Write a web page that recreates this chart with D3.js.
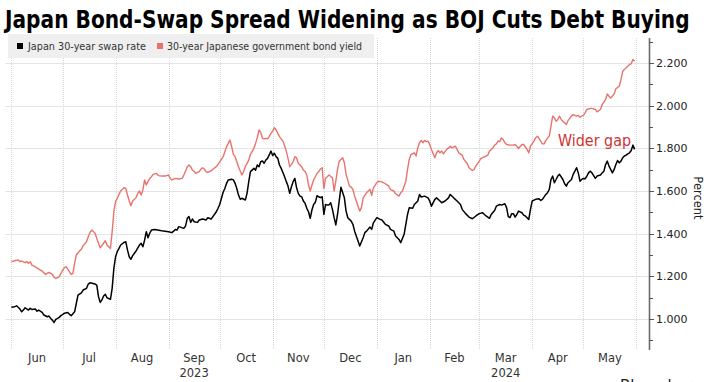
<!DOCTYPE html>
<html><head><meta charset="utf-8">
<script src="https://cdn.jsdelivr.net/npm/d3@7"></script>
<style>html,body{margin:0;padding:0;background:#fff;}svg{display:block}</style>
</head><body>
<svg id="chart" width="715" height="382"></svg>
<script>
const chartTitle = "Japan Bond-Swap Spread Widening as BOJ Cuts Debt Buying";
const seriesNames = ["Japan 30-year swap rate", "30-year Japanese government bond yield"];
const seriesColors = ["#000000", "#e8736c"];
const yAxisTitle = "Percent";
const annotationText = "Wider gap";

const yMajorTicks = [1.0, 1.2, 1.4, 1.6, 1.8, 2.0, 2.2];
const yTickLabels = ["1.000", "1.200", "1.400", "1.600", "1.800", "2.000", "2.200"];
const yMinorTicks = [0.9, 1.1, 1.3, 1.5, 1.7, 1.9, 2.1, 2.3];
const monthStarts = ["2023-06-01","2023-07-01","2023-08-01","2023-09-01","2023-10-01","2023-11-01","2023-12-01","2024-01-01","2024-02-01","2024-03-01","2024-04-01","2024-05-01","2024-06-01"];
const monthLabels = ["Jun","Jul","Aug","Sep","Oct","Nov","Dec","Jan","Feb","Mar","Apr","May"];
const yearLabelMonths = ["Sep", "Mar"];
const yearLabels = ["2023", "2024"];

const swapRate = [
["2023-06-01",1.055],["2023-06-03",1.058],["2023-06-04",1.062],["2023-06-06",1.047],["2023-06-07",1.034],["2023-06-08",1.042],["2023-06-09",1.053],["2023-06-11",1.042],["2023-06-12",1.050],["2023-06-13",1.045],["2023-06-15",1.047],["2023-06-16",1.037],["2023-06-17",1.042],["2023-06-19",1.031],["2023-06-20",1.019],["2023-06-22",1.011],["2023-06-23",1.014],["2023-06-24",1.003],["2023-06-25",0.995],["2023-06-26",0.984],["2023-06-27",0.998],["2023-06-29",1.008],["2023-06-30",1.016],
["2023-07-02",1.027],["2023-07-04",1.031],["2023-07-05",1.022],["2023-07-06",1.016],["2023-07-08",1.034],["2023-07-09",1.073],["2023-07-10",1.112],["2023-07-12",1.123],["2023-07-13",1.136],["2023-07-15",1.144],["2023-07-16",1.164],["2023-07-17",1.170],["2023-07-20",1.164],["2023-07-21",1.159],["2023-07-22",1.105],["2023-07-23",1.078],["2023-07-24",1.089],["2023-07-25",1.108],["2023-07-26",1.116],["2023-07-27",1.100],["2023-07-29",1.092],["2023-07-30",1.144],["2023-07-31",1.237],
["2023-08-01",1.292],["2023-08-02",1.316],["2023-08-03",1.331],["2023-08-04",1.347],["2023-08-06",1.359],["2023-08-07",1.362],["2023-08-08",1.323],["2023-08-09",1.292],["2023-08-10",1.280],["2023-08-11",1.297],["2023-08-13",1.319],["2023-08-15",1.347],["2023-08-16",1.355],["2023-08-17",1.339],["2023-08-18",1.370],["2023-08-19",1.409],["2023-08-20",1.381],["2023-08-21",1.402],["2023-08-22",1.417],["2023-08-24",1.420],["2023-08-28",1.414],
["2023-09-01",1.409],["2023-09-03",1.405],["2023-09-04",1.412],["2023-09-05",1.420],["2023-09-06",1.417],["2023-09-07",1.433],["2023-09-10",1.425],["2023-09-11",1.437],["2023-09-12",1.472],["2023-09-13",1.480],["2023-09-14",1.453],["2023-09-15",1.469],["2023-09-16",1.456],["2023-09-18",1.453],["2023-09-19",1.464],["2023-09-21",1.469],["2023-09-23",1.464],["2023-09-24",1.475],["2023-09-26",1.469],["2023-09-27",1.480],["2023-09-29",1.503],["2023-09-30",1.519],
["2023-10-01",1.537],["2023-10-02",1.566],["2023-10-03",1.594],["2023-10-04",1.612],["2023-10-05",1.636],["2023-10-06",1.652],["2023-10-08",1.655],["2023-10-09",1.652],["2023-10-10",1.636],["2023-10-11",1.612],["2023-10-12",1.581],["2023-10-13",1.561],["2023-10-14",1.566],["2023-10-16",1.558],["2023-10-17",1.589],["2023-10-18",1.644],["2023-10-19",1.691],["2023-10-21",1.706],["2023-10-22",1.698],["2023-10-23",1.722],["2023-10-24",1.714],["2023-10-25",1.737],["2023-10-26",1.741],["2023-10-27",1.730],["2023-10-28",1.745],["2023-10-29",1.753],["2023-10-30",1.769],["2023-10-31",1.787],
["2023-11-01",1.766],["2023-11-02",1.777],["2023-11-03",1.761],["2023-11-04",1.753],["2023-11-05",1.722],["2023-11-06",1.706],["2023-11-07",1.687],["2023-11-08",1.667],["2023-11-09",1.644],["2023-11-10",1.623],["2023-11-11",1.589],["2023-11-12",1.620],["2023-11-13",1.644],["2023-11-14",1.659],["2023-11-15",1.616],["2023-11-16",1.589],["2023-11-17",1.576],["2023-11-18",1.573],["2023-11-19",1.553],["2023-11-20",1.542],["2023-11-21",1.519],["2023-11-22",1.503],["2023-11-23",1.472],["2023-11-24",1.511],["2023-11-25",1.537],["2023-11-26",1.547],["2023-11-27",1.578],["2023-11-28",1.573],["2023-11-29",1.569],["2023-11-30",1.573],
["2023-12-01",1.490],["2023-12-02",1.537],["2023-12-03",1.534],["2023-12-04",1.535],["2023-12-05",1.545],["2023-12-06",1.514],["2023-12-07",1.475],["2023-12-08",1.441],["2023-12-09",1.490],["2023-12-11",1.618],["2023-12-13",1.568],["2023-12-14",1.506],["2023-12-15",1.475],["2023-12-17",1.459],["2023-12-18",1.444],["2023-12-19",1.412],["2023-12-21",1.366],["2023-12-22",1.342],["2023-12-24",1.381],["2023-12-25",1.405],["2023-12-26",1.412],["2023-12-28",1.431],["2023-12-29",1.420],["2023-12-30",1.451],
["2024-01-01",1.475],["2024-01-03",1.467],["2024-01-04",1.464],["2024-01-06",1.444],["2024-01-08",1.436],["2024-01-09",1.420],["2024-01-11",1.412],["2024-01-12",1.389],["2024-01-14",1.373],["2024-01-15",1.358],["2024-01-17",1.397],["2024-01-18",1.444],["2024-01-19",1.490],["2024-01-20",1.522],["2024-01-22",1.519],["2024-01-23",1.537],["2024-01-25",1.553],["2024-01-26",1.584],["2024-01-27",1.572],["2024-01-29",1.576],["2024-01-31",1.568],
["2024-02-01",1.553],["2024-02-02",1.529],["2024-02-04",1.561],["2024-02-05",1.568],["2024-02-07",1.553],["2024-02-08",1.545],["2024-02-10",1.553],["2024-02-12",1.568],["2024-02-13",1.584],["2024-02-15",1.568],["2024-02-17",1.553],["2024-02-19",1.537],["2024-02-20",1.514],["2024-02-22",1.494],["2024-02-24",1.478],["2024-02-26",1.470],["2024-02-28",1.483],
["2024-03-01",1.494],["2024-03-03",1.498],["2024-03-04",1.490],["2024-03-05",1.483],["2024-03-07",1.472],["2024-03-08",1.490],["2024-03-10",1.509],["2024-03-11",1.529],["2024-03-13",1.537],["2024-03-14",1.534],["2024-03-16",1.540],["2024-03-17",1.522],["2024-03-18",1.480],["2024-03-19",1.475],["2024-03-20",1.494],["2024-03-21",1.494],["2024-03-22",1.478],["2024-03-23",1.490],["2024-03-24",1.506],["2024-03-26",1.498],["2024-03-27",1.487],["2024-03-28",1.483],["2024-03-29",1.475],["2024-03-30",1.467],["2024-03-31",1.514],
["2024-04-01",1.553],["2024-04-03",1.561],["2024-04-05",1.564],["2024-04-06",1.556],["2024-04-07",1.561],["2024-04-09",1.584],["2024-04-10",1.592],["2024-04-11",1.607],["2024-04-12",1.654],["2024-04-13",1.670],["2024-04-14",1.639],["2024-04-15",1.654],["2024-04-16",1.670],["2024-04-17",1.678],["2024-04-19",1.654],["2024-04-20",1.634],["2024-04-21",1.623],["2024-04-22",1.639],["2024-04-24",1.654],["2024-04-25",1.678],["2024-04-26",1.693],["2024-04-27",1.709],["2024-04-28",1.685],["2024-04-29",1.646],["2024-04-30",1.654],
["2024-05-01",1.659],["2024-05-02",1.657],["2024-05-03",1.670],["2024-05-04",1.685],["2024-05-05",1.693],["2024-05-06",1.685],["2024-05-08",1.659],["2024-05-09",1.670],["2024-05-11",1.675],["2024-05-12",1.685],["2024-05-13",1.693],["2024-05-14",1.724],["2024-05-15",1.740],["2024-05-16",1.717],["2024-05-18",1.685],["2024-05-19",1.701],["2024-05-20",1.724],["2024-05-21",1.743],["2024-05-22",1.732],["2024-05-23",1.740],["2024-05-24",1.756],["2024-05-25",1.764],["2024-05-26",1.768],["2024-05-27",1.774],["2024-05-28",1.779],["2024-05-29",1.790],["2024-05-30",1.815],["2024-05-31",1.795]
];

const jgbYield = [
["2023-06-01",1.269],["2023-06-03",1.273],["2023-06-05",1.277],["2023-06-06",1.269],["2023-06-07",1.272],["2023-06-09",1.264],["2023-06-10",1.269],["2023-06-11",1.261],["2023-06-12",1.269],["2023-06-13",1.253],["2023-06-15",1.245],["2023-06-17",1.234],["2023-06-19",1.225],["2023-06-21",1.209],["2023-06-22",1.214],["2023-06-23",1.219],["2023-06-25",1.209],["2023-06-26",1.195],["2023-06-27",1.191],["2023-06-29",1.198],["2023-06-30",1.214],
["2023-07-02",1.241],["2023-07-03",1.245],["2023-07-04",1.234],["2023-07-06",1.209],["2023-07-07",1.214],["2023-07-08",1.261],["2023-07-09",1.300],["2023-07-11",1.320],["2023-07-12",1.327],["2023-07-13",1.344],["2023-07-15",1.362],["2023-07-16",1.386],["2023-07-17",1.406],["2023-07-18",1.417],["2023-07-20",1.402],["2023-07-21",1.378],["2023-07-22",1.355],["2023-07-23",1.334],["2023-07-24",1.344],["2023-07-26",1.367],["2023-07-27",1.347],["2023-07-28",1.339],["2023-07-29",1.331],["2023-07-30",1.409],["2023-07-31",1.503],
["2023-08-01",1.550],["2023-08-02",1.566],["2023-08-03",1.584],["2023-08-04",1.600],["2023-08-06",1.616],["2023-08-07",1.612],["2023-08-08",1.581],["2023-08-09",1.553],["2023-08-10",1.531],["2023-08-11",1.553],["2023-08-13",1.569],["2023-08-14",1.589],["2023-08-15",1.600],["2023-08-16",1.581],["2023-08-17",1.605],["2023-08-18",1.652],["2023-08-19",1.628],["2023-08-20",1.644],["2023-08-21",1.659],["2023-08-22",1.667],["2023-08-23",1.678],["2023-08-25",1.683],["2023-08-26",1.672],["2023-08-28",1.670],["2023-08-30",1.670],
["2023-09-01",1.675],["2023-09-02",1.659],["2023-09-03",1.652],["2023-09-04",1.656],["2023-09-05",1.659],["2023-09-07",1.656],["2023-09-09",1.659],["2023-09-10",1.675],["2023-09-11",1.694],["2023-09-12",1.714],["2023-09-13",1.722],["2023-09-14",1.714],["2023-09-15",1.698],["2023-09-16",1.691],["2023-09-17",1.683],["2023-09-18",1.687],["2023-09-19",1.691],["2023-09-20",1.703],["2023-09-21",1.709],["2023-09-22",1.703],["2023-09-23",1.691],["2023-09-24",1.687],["2023-09-26",1.694],["2023-09-27",1.702],["2023-09-29",1.714],["2023-09-30",1.725],
["2023-10-01",1.737],["2023-10-03",1.761],["2023-10-04",1.784],["2023-10-05",1.808],["2023-10-06",1.823],["2023-10-07",1.839],["2023-10-08",1.808],["2023-10-09",1.772],["2023-10-10",1.761],["2023-10-11",1.737],["2023-10-12",1.714],["2023-10-13",1.694],["2023-10-14",1.675],["2023-10-15",1.691],["2023-10-16",1.714],["2023-10-18",1.745],["2023-10-19",1.772],["2023-10-21",1.800],["2023-10-22",1.823],["2023-10-23",1.850],["2023-10-24",1.886],["2023-10-25",1.875],["2023-10-26",1.847],["2023-10-27",1.844],["2023-10-28",1.847],["2023-10-29",1.844],["2023-10-30",1.855],["2023-10-31",1.870],
["2023-11-01",1.881],["2023-11-02",1.897],["2023-11-03",1.886],["2023-11-04",1.870],["2023-11-05",1.855],["2023-11-07",1.834],["2023-11-08",1.812],["2023-11-09",1.787],["2023-11-10",1.753],["2023-11-11",1.714],["2023-11-12",1.725],["2023-11-13",1.737],["2023-11-14",1.761],["2023-11-15",1.756],["2023-11-16",1.730],["2023-11-17",1.722],["2023-11-18",1.714],["2023-11-19",1.698],["2023-11-20",1.691],["2023-11-21",1.675],["2023-11-22",1.628],["2023-11-23",1.600],["2023-11-24",1.628],["2023-11-25",1.652],["2023-11-26",1.667],["2023-11-27",1.683],["2023-11-28",1.691],["2023-11-29",1.703],["2023-11-30",1.709],
["2023-12-01",1.612],["2023-12-02",1.660],["2023-12-03",1.667],["2023-12-04",1.675],["2023-12-06",1.662],["2023-12-07",1.600],["2023-12-08",1.646],["2023-12-09",1.701],["2023-12-10",1.740],["2023-12-12",1.756],["2023-12-13",1.732],["2023-12-14",1.678],["2023-12-16",1.623],["2023-12-17",1.618],["2023-12-18",1.607],["2023-12-19",1.576],["2023-12-20",1.553],["2023-12-21",1.529],["2023-12-22",1.506],["2023-12-23",1.522],["2023-12-24",1.568],["2023-12-26",1.592],["2023-12-27",1.600],["2023-12-28",1.607],["2023-12-29",1.580],["2023-12-30",1.615],
["2024-01-01",1.639],["2024-01-02",1.646],["2024-01-04",1.643],["2024-01-06",1.634],["2024-01-08",1.623],["2024-01-09",1.607],["2024-01-11",1.600],["2024-01-12",1.587],["2024-01-14",1.576],["2024-01-15",1.592],["2024-01-16",1.600],["2024-01-18",1.646],["2024-01-19",1.701],["2024-01-20",1.748],["2024-01-21",1.771],["2024-01-23",1.779],["2024-01-24",1.764],["2024-01-25",1.802],["2024-01-26",1.826],["2024-01-27",1.837],["2024-01-28",1.826],["2024-01-29",1.837],["2024-01-30",1.831],["2024-01-31",1.834],
["2024-02-01",1.818],["2024-02-02",1.795],["2024-02-04",1.756],["2024-02-05",1.779],["2024-02-06",1.790],["2024-02-07",1.779],["2024-02-08",1.787],["2024-02-09",1.774],["2024-02-11",1.795],["2024-02-12",1.802],["2024-02-13",1.810],["2024-02-14",1.802],["2024-02-16",1.810],["2024-02-17",1.795],["2024-02-18",1.779],["2024-02-20",1.768],["2024-02-21",1.748],["2024-02-23",1.728],["2024-02-24",1.709],["2024-02-26",1.696],["2024-02-27",1.701],["2024-02-28",1.717],
["2024-03-01",1.740],["2024-03-02",1.753],["2024-03-03",1.756],["2024-03-05",1.764],["2024-03-06",1.768],["2024-03-07",1.787],["2024-03-09",1.802],["2024-03-10",1.815],["2024-03-11",1.821],["2024-03-12",1.834],["2024-03-13",1.831],["2024-03-14",1.849],["2024-03-15",1.841],["2024-03-16",1.826],["2024-03-17",1.818],["2024-03-19",1.815],["2024-03-21",1.815],["2024-03-22",1.818],["2024-03-23",1.810],["2024-03-24",1.799],["2024-03-26",1.818],["2024-03-27",1.818],["2024-03-29",1.795],["2024-03-30",1.779],["2024-03-31",1.810],
["2024-04-02",1.834],["2024-04-03",1.849],["2024-04-04",1.857],["2024-04-05",1.846],["2024-04-07",1.821],["2024-04-08",1.821],["2024-04-09",1.837],["2024-04-11",1.857],["2024-04-12",1.904],["2024-04-13",1.951],["2024-04-14",1.943],["2024-04-15",1.927],["2024-04-16",1.935],["2024-04-17",1.951],["2024-04-18",1.935],["2024-04-19",1.927],["2024-04-21",1.912],["2024-04-22",1.930],["2024-04-24",1.951],["2024-04-25",1.958],["2024-04-27",1.951],["2024-04-28",1.954],["2024-04-29",1.946],
["2024-05-01",1.955],["2024-05-02",1.966],["2024-05-03",1.982],["2024-05-05",1.987],["2024-05-06",1.987],["2024-05-08",1.982],["2024-05-09",1.971],["2024-05-11",1.982],["2024-05-12",2.005],["2024-05-14",2.029],["2024-05-15",2.055],["2024-05-16",2.044],["2024-05-17",2.036],["2024-05-19",2.055],["2024-05-20",2.079],["2024-05-22",2.091],["2024-05-23",2.122],["2024-05-24",2.161],["2024-05-25",2.169],["2024-05-26",2.177],["2024-05-27",2.185],["2024-05-28",2.193],["2024-05-29",2.196],["2024-05-30",2.216],["2024-05-31",2.208]
];

const parse = d3.timeParse("%Y-%m-%d");
const svg = d3.select("#chart");
const W = 715, H = 382;
const plot = {left: 5, right: 649, top: 38, bottom: 350};

const x = d3.scaleTime()
  .domain([parse("2023-05-30"), parse("2024-06-09")])
  .range([8, 650]);
const y = d3.scaleLinear()
  .domain([0.855, 2.317])
  .range([plot.bottom, plot.top]);

svg.append("rect").attr("width", W).attr("height", H).attr("fill", "#fff");

// horizontal gridlines
svg.append("g").selectAll("line").data(yMajorTicks).join("line")
  .attr("x1", plot.left).attr("x2", plot.right)
  .attr("y1", d => Math.round(y(d)) + 0.5).attr("y2", d => Math.round(y(d)) + 0.5)
  .attr("stroke", "#e4e4e4").attr("stroke-width", 1);

// vertical gridlines at month starts
const ms = monthStarts.map(parse);
svg.append("g").selectAll("line").data(ms).join("line")
  .attr("x1", d => Math.round(x(d)) + 0.5).attr("x2", d => Math.round(x(d)) + 0.5)
  .attr("y1", plot.top).attr("y2", plot.bottom)
  .attr("stroke", "#d6d6d6").attr("stroke-width", 1).attr("stroke-dasharray", "1,1");

// legend
const lg = svg.append("g");
lg.append("rect").attr("x", 8).attr("y", 34).attr("width", 366).attr("height", 24).attr("fill", "#efefef");
const legendItems = [
  {sq: 17, tx: 28, w: 118},
  {sq: 157, tx: 167, w: 195}
];
legendItems.forEach((it, i) => {
  lg.append("rect").attr("x", it.sq).attr("y", 43).attr("width", 6).attr("height", 6).attr("fill", seriesColors[i]);
  lg.append("text").attr("x", it.tx).attr("y", 50)
    .attr("font-family", "DejaVu Sans").attr("font-size", 10).attr("fill", "#333")
    .attr("textLength", it.w).attr("lengthAdjust", "spacingAndGlyphs")
    .text(seriesNames[i]);
});

// lines
const line = d3.line().x(d => x(parse(d[0]))).y(d => y(d[1]));
svg.append("path").datum(jgbYield).attr("d", line)
  .attr("fill", "none").attr("stroke", seriesColors[1]).attr("stroke-width", 1.4).attr("stroke-linejoin", "round");
svg.append("path").datum(swapRate).attr("d", line)
  .attr("fill", "none").attr("stroke", seriesColors[0]).attr("stroke-width", 1.5).attr("stroke-linejoin", "round");

// right axis
const ax = svg.append("g");
ax.append("line").attr("x1", 649.5).attr("x2", 649.5).attr("y1", plot.top).attr("y2", plot.bottom)
  .attr("stroke", "#6b6b6b").attr("stroke-width", 1.6);
ax.selectAll(".mn").data(yMinorTicks).join("line").attr("class", "mn")
  .attr("x1", 649).attr("x2", 653)
  .attr("y1", d => Math.round(y(d)) + 0.5).attr("y2", d => Math.round(y(d)) + 0.5)
  .attr("stroke", "#555");
ax.selectAll(".mj").data(yMajorTicks).join("line").attr("class", "mj")
  .attr("x1", 649).attr("x2", 654)
  .attr("y1", d => Math.round(y(d)) + 0.5).attr("y2", d => Math.round(y(d)) + 0.5)
  .attr("stroke", "#555");
ax.selectAll("text").data(yMajorTicks).join("text")
  .attr("x", 656).attr("y", d => y(d) + 4)
  .attr("font-family", "DejaVu Sans").attr("font-size", 11).attr("fill", "#222")
  .text((d, i) => yTickLabels[i]);
svg.append("text").attr("transform", "translate(694,198) rotate(90)")
  .attr("text-anchor", "middle").attr("font-family", "DejaVu Sans").attr("font-size", 11.5).attr("fill", "#222")
  .text(yAxisTitle);

// month labels
const mg = svg.append("g");
monthLabels.forEach((m, i) => {
  const cx = (x(ms[i]) + x(ms[i + 1])) / 2;
  mg.append("text").attr("x", cx).attr("y", 362).attr("text-anchor", "middle")
    .attr("font-family", "DejaVu Sans").attr("font-size", 11.5).attr("fill", "#333").text(m);
  const yi = yearLabelMonths.indexOf(m);
  if (yi >= 0) {
    mg.append("text").attr("x", cx).attr("y", 377).attr("text-anchor", "middle")
      .attr("font-family", "DejaVu Sans").attr("font-size", 11.5).attr("fill", "#333").text(yearLabels[yi]);
  }
});

// annotation
svg.append("text").attr("x", 558).attr("y", 146)
  .attr("font-family", "DejaVu Sans").attr("font-size", 16).attr("fill", "#cc3333")
  .attr("textLength", 73).attr("lengthAdjust", "spacingAndGlyphs")
  .text(annotationText);

// title: render at a size whose natural width fits, then scale to the reference box
const titleG = svg.append("g");
const titleT = titleG.append("text").attr("x", 0).attr("y", 0)
  .attr("font-family", "DejaVu Sans").attr("font-weight", "bold").attr("font-size", 19).attr("fill", "#000")
  .text(chartTitle);
const tLen = titleT.node().getComputedTextLength();
const sx = 685 / tLen, sy = 25 / 19;
titleG.attr("transform", `translate(5,28) scale(${sx},${sy})`);

// source (cropped at bottom edge, as in the reference)
svg.append("text").attr("x", 620).attr("y", 391)
  .attr("font-family", "DejaVu Sans").attr("font-size", 15).attr("fill", "#222")
  .text("Bloomberg");
</script>
</body></html>
